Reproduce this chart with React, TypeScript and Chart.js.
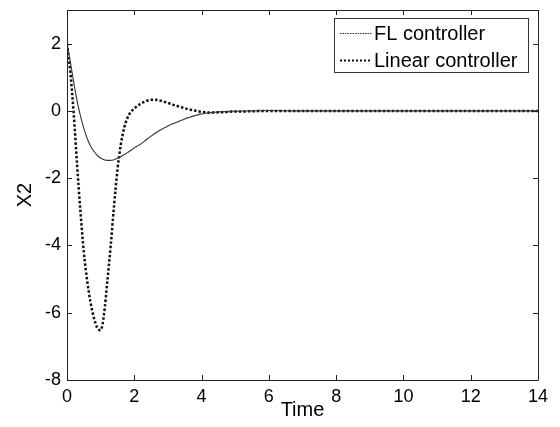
import React, { useEffect, useRef } from "react";
import { Chart, registerables } from "chart.js";

Chart.register(...registerables);

// Time samples (s)
const time: number[] = [
  0, 0.1, 0.2, 0.3, 0.4, 0.5, 0.6, 0.7, 0.8, 0.9,
  1.0, 1.1, 1.2, 1.3, 1.4, 1.5, 1.6, 1.7, 1.8, 1.9,
  2.0, 2.1, 2.2, 2.3, 2.4, 2.5, 2.6, 2.7, 2.8, 2.9,
  3.0, 3.1, 3.2, 3.3, 3.4, 3.5, 3.6, 3.7, 3.8, 3.9,
  4.0, 4.1, 4.2, 4.3, 4.4, 4.5, 4.6, 4.7, 4.8, 4.9,
  5.0, 5.5, 6, 7, 8, 9, 10, 11, 12, 13, 14,
];

// X2 with the FL controller
const flController: number[] = [
  2.0, 1.45, 0.85, 0.3, -0.15, -0.52, -0.82, -1.04, -1.2, -1.32,
  -1.4, -1.45, -1.47, -1.47, -1.45, -1.41, -1.36, -1.3, -1.24, -1.17,
  -1.1, -1.04, -0.98, -0.9, -0.82, -0.75, -0.68, -0.61, -0.55, -0.5,
  -0.45, -0.4, -0.36, -0.32, -0.28, -0.24, -0.2, -0.17, -0.14, -0.11,
  -0.09, -0.07, -0.06, -0.05, -0.04, -0.03, -0.03, -0.02, -0.02, -0.01,
  -0.01, 0.0, 0.01, 0.0, 0.0, 0.0, 0.0, 0.0, 0.0, 0.0, 0.0,
];

// X2 with the linear controller
const linearController: number[] = [
  2.0, 1.15, -0.1, -1.6, -3.0, -4.2, -5.05, -5.7, -6.15, -6.45,
  -6.52, -6.05, -5.05, -4.0, -2.8, -1.75, -1.0, -0.5, -0.2, -0.03,
  0.07, 0.15, 0.22, 0.27, 0.31, 0.33, 0.33, 0.32, 0.3, 0.27,
  0.24, 0.2, 0.17, 0.14, 0.11, 0.08, 0.05, 0.03, 0.01, -0.01,
  -0.03, -0.04, -0.05, -0.05, -0.05, -0.04, -0.04, -0.03, -0.03, -0.02,
  -0.02, -0.01, 0.0, 0.0, 0.0, 0.0, 0.0, 0.0, 0.0, 0.0, 0.0,
];

const seriesLabels: string[] = ["FL controller", "Linear controller"];
const xTicks: number[] = [0, 2, 4, 6, 8, 10, 12, 14];
const yTicks: number[] = [-8, -6, -4, -2, 0, 2];
const xLabel = "Time";
const yLabel = "X2";

const FONT = "'Liberation Sans', Arial, Helvetica, sans-serif";

const framePlugin = {
  id: "matlabFrame",
  afterDatasetsDraw(chart: any) {
    const { ctx, chartArea } = chart;
    const { left, right, top, bottom } = chartArea;
    const xs = chart.scales.x;
    const ys = chart.scales.y;
    ctx.save();
    ctx.strokeStyle = "#222";
    ctx.lineWidth = 1;
    ctx.beginPath();
    ctx.rect(Math.round(left) + 0.5, Math.round(top) + 0.5, Math.round(right - left), Math.round(bottom - top));
    ctx.stroke();
    const tl = 5;
    ctx.beginPath();
    for (const v of xTicks) {
      const px = Math.round(xs.getPixelForValue(v)) + 0.5;
      ctx.moveTo(px, bottom);
      ctx.lineTo(px, bottom - tl);
      ctx.moveTo(px, top);
      ctx.lineTo(px, top + tl);
    }
    for (const v of yTicks) {
      const py = Math.round(ys.getPixelForValue(v)) + 0.5;
      ctx.moveTo(left, py);
      ctx.lineTo(left + tl, py);
      ctx.moveTo(right, py);
      ctx.lineTo(right - tl, py);
    }
    ctx.stroke();
    ctx.restore();
  },
  afterDraw(chart: any) {
    const { ctx, chartArea } = chart;
    const boxRight = chartArea.right - 10;
    const boxTop = chartArea.top + 8;
    const boxW = 194;
    const boxH = 54;
    const boxLeft = boxRight - boxW;
    ctx.save();
    ctx.fillStyle = "#fff";
    ctx.fillRect(boxLeft, boxTop, boxW, boxH);
    ctx.strokeStyle = "#333";
    ctx.lineWidth = 1;
    ctx.strokeRect(Math.round(boxLeft) + 0.5, Math.round(boxTop) + 0.5, boxW, boxH);
    ctx.font = `20px ${FONT}`;
    ctx.textBaseline = "middle";
    ctx.textAlign = "left";
    ctx.fillStyle = "#000";
    const rows = [boxTop + 15, boxTop + 42];
    chart.data.datasets.forEach((ds: any, i: number) => {
      const y = Math.round(rows[i]) + 0.5;
      ctx.save();
      ctx.strokeStyle = ds.borderColor;
      ctx.lineWidth = i === 0 ? 1 : 2;
      ctx.setLineDash(i === 0 ? [1.5, 1] : [2, 2]);
      ctx.beginPath();
      ctx.moveTo(boxLeft + 6, y);
      ctx.lineTo(boxLeft + 38, y);
      ctx.stroke();
      ctx.restore();
      ctx.fillText(ds.label, boxLeft + 40, rows[i] + 1);
    });
    ctx.restore();
  },
};

export default function App() {
  const ref = useRef<HTMLCanvasElement | null>(null);

  useEffect(() => {
    document.body.style.margin = "0";
    const canvas = ref.current;
    if (!canvas) return;
    const chart = new Chart(canvas, {
      type: "line",
      data: {
        datasets: [
          {
            label: seriesLabels[0],
            data: time.map((t, i) => ({ x: t, y: flController[i] })),
            borderColor: "#333",
            borderWidth: 1.1,
            pointRadius: 0,
            cubicInterpolationMode: "monotone",
            fill: false,
          },
          {
            label: seriesLabels[1],
            data: time.map((t, i) => ({ x: t, y: linearController[i] })),
            borderColor: "#111",
            borderWidth: 2.5,
            borderDash: [2.5, 2],
            borderCapStyle: "butt",
            pointRadius: 0,
            cubicInterpolationMode: "monotone",
            fill: false,
          },
        ],
      },
      options: {
        animation: false,
        responsive: false,
        devicePixelRatio: 1,
        layout: { padding: { top: 10, right: 22, left: 0, bottom: 0 } },
        plugins: {
          legend: { display: false },
          tooltip: { enabled: false },
        },
        scales: {
          x: {
            type: "linear",
            min: 0,
            max: 14,
            afterBuildTicks: (s: any) => {
              s.ticks = xTicks.map((v) => ({ value: v }));
            },
            afterFit: (s: any) => {
              s.height = 47;
              s.paddingLeft = 0;
              s.paddingRight = 0;
            },
            grid: { display: false, drawTicks: false },
            border: { display: false },
            ticks: {
              color: "#000",
              padding: 6,
              maxRotation: 0,
              autoSkip: false,
              font: { family: FONT, size: 18 },
            },
            title: {
              display: true,
              text: xLabel,
              color: "#000",
              font: { family: FONT, size: 20 },
              padding: { top: 0, bottom: 5 },
            },
          },
          y: {
            type: "linear",
            min: -8,
            max: 3,
            afterBuildTicks: (s: any) => {
              s.ticks = yTicks.map((v) => ({ value: v }));
            },
            afterFit: (s: any) => {
              s.width = 67;
              s.paddingTop = 0;
              s.paddingBottom = 0;
            },
            grid: { display: false, drawTicks: false },
            border: { display: false },
            ticks: {
              color: "#000",
              padding: 6,
              autoSkip: false,
              font: { family: FONT, size: 18 },
            },
            title: {
              display: true,
              text: yLabel,
              color: "#000",
              font: { family: FONT, size: 20 },
              padding: { top: 13, bottom: 0 },
            },
          },
        },
      },
      plugins: [framePlugin],
    } as any);
    return () => chart.destroy();
  }, []);

  return (
    <canvas
      ref={ref}
      width={560}
      height={427}
      style={{ display: "block", width: 560, height: 427 }}
    />
  );
}
